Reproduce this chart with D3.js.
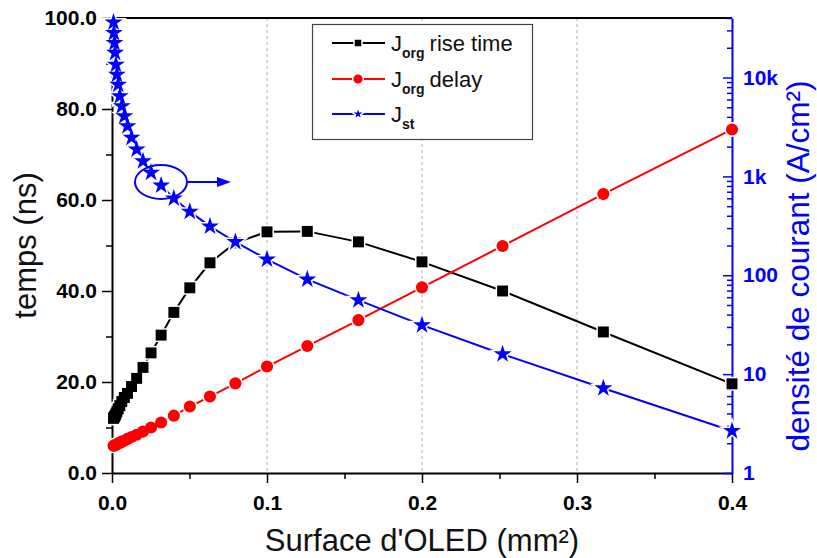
<!DOCTYPE html>
<html>
<head>
<meta charset="utf-8">
<script src="https://cdn.jsdelivr.net/npm/d3@7"></script>
<style>
  html, body { margin: 0; padding: 0; background: #fff; }
  svg { display: block; font-family: "Liberation Sans", Arial, sans-serif; }
</style>
</head>
<body>
<svg id="chart" width="817" height="558"></svg>
<script>
// OLED surface (mm²)
const surface = [0.001, 0.00126, 0.00159, 0.002, 0.00252, 0.00317, 0.00399, 0.00502, 0.00632, 0.00796,
                 0.01, 0.0126, 0.0159, 0.02, 0.0252, 0.0317, 0.0399, 0.0502, 0.0632, 0.0796,
                 0.1, 0.126, 0.159, 0.2, 0.252, 0.317, 0.4];
// J_org rise time (ns)
const riseTime = [12.0, 12.2, 12.4, 12.6, 13.0, 13.5, 14.1, 14.8, 15.7, 16.6,
                  17.5, 19.0, 20.8, 23.2, 26.4, 30.3, 35.3, 40.7, 46.2, 50.6,
                  53.0, 53.1, 50.8, 46.4, 40.0, 31.0, 19.6];
// J_org delay (ns)
const delay = [6.0, 6.0, 6.1, 6.1, 6.2, 6.3, 6.5, 6.6, 6.9, 7.1,
               7.5, 7.9, 8.4, 9.1, 10.0, 11.1, 12.6, 14.6, 16.8, 19.7,
               23.4, 27.9, 33.6, 40.8, 49.9, 61.3, 75.5];
// J_st current density (A/cm²)
const currentDensity = [36100, 28300, 22400, 17800, 13500, 10700, 8490, 6470, 5130, 4065,
                        3220, 2460, 1875, 1428, 1090, 811, 600, 440, 312, 217,
                        145, 91, 56, 31.3, 15.9, 7.2, 2.66];

const xTicks = [0, 0.1, 0.2, 0.3, 0.4];
const xMinorTicks = [0.05, 0.15, 0.25, 0.35];
const yLeftTicks = [0, 20, 40, 60, 80, 100];
const yLeftMinorTicks = [10, 30, 50, 70, 90];
const yRightTicks = [1, 10, 100, 1000, 10000];
const yRightTickLabels = ["1", "10", "100", "1k", "10k"];
const yRightMinorTicks = [2,3,4,5,6,7,8,9, 20,30,40,50,60,70,80,90,
                          200,300,400,500,600,700,800,900,
                          2000,3000,4000,5000,6000,7000,8000,9000, 20000,30000,40000];

const seriesNames = ["rise time", "delay", ""];
const seriesSubs = ["org", "org", "st"];

const m = { left: 112, right: 732, top: 18, bottom: 473 };
const blue = "#0000ff", red = "#ff0000", black = "#000000";

const svg = d3.select("#chart");

const x = d3.scaleLinear().domain([0, 0.4]).range([m.left, m.right]);
const yL = d3.scaleLinear().domain([0, 100]).range([m.bottom, m.top]);
const yR = d3.scaleLog().domain([1, 40000]).range([m.bottom, m.top]);

// vertical dashed grid
svg.append("g").selectAll("line").data(xTicks.slice(1, -1)).join("line")
  .attr("x1", d => x(d)).attr("x2", d => x(d))
  .attr("y1", m.top).attr("y2", m.bottom)
  .attr("stroke", "#b0b0b0").attr("stroke-width", 1).attr("stroke-dasharray", "3,3");

// top frame line
svg.append("line").attr("x1", m.left).attr("x2", m.right).attr("y1", m.top).attr("y2", m.top)
  .attr("stroke", black).attr("stroke-width", 2);

function styleAxis(g, color) {
  g.select(".domain").attr("stroke", color).attr("stroke-width", 2);
  g.selectAll(".tick line").attr("stroke", color).attr("stroke-width", 1.5);
  g.selectAll(".tick text").attr("fill", color).attr("font-size", 21).attr("font-weight", "bold")
    .attr("font-family", "Liberation Sans, Arial, sans-serif");
}

// bottom axis
const gx = svg.append("g").attr("transform", `translate(0,${m.bottom})`)
  .call(d3.axisBottom(x).tickValues(xTicks).tickFormat(d3.format(".1f")).tickSizeInner(10).tickSizeOuter(0).tickPadding(12));
styleAxis(gx, black);
svg.append("g").attr("transform", `translate(0,${m.bottom})`)
  .call(d3.axisBottom(x).tickValues(xMinorTicks).tickFormat("").tickSizeInner(6).tickSizeOuter(0))
  .call(g => { g.select(".domain").remove(); g.selectAll("line").attr("stroke", black).attr("stroke-width", 1.5); });

// left axis
const gyl = svg.append("g").attr("transform", `translate(${m.left},0)`)
  .call(d3.axisLeft(yL).tickValues(yLeftTicks).tickFormat(d3.format(".1f")).tickSizeInner(10).tickSizeOuter(0).tickPadding(5));
styleAxis(gyl, black);
svg.append("g").attr("transform", `translate(${m.left},0)`)
  .call(d3.axisLeft(yL).tickValues(yLeftMinorTicks).tickFormat("").tickSizeInner(6).tickSizeOuter(0))
  .call(g => { g.select(".domain").remove(); g.selectAll("line").attr("stroke", black).attr("stroke-width", 1.5); });

// right log axis, ticks pointing inward
const gyr = svg.append("g").attr("transform", `translate(${m.right},0)`)
  .call(d3.axisRight(yR).tickValues(yRightTicks).tickFormat((d, i) => yRightTickLabels[i]).tickSizeInner(-9).tickSizeOuter(0).tickPadding(11));
styleAxis(gyr, blue);
svg.append("g").attr("transform", `translate(${m.right},0)`)
  .call(d3.axisRight(yR).tickValues(yRightMinorTicks).tickFormat("").tickSizeInner(-5).tickSizeOuter(0))
  .call(g => { g.select(".domain").remove(); g.selectAll("line").attr("stroke", blue).attr("stroke-width", 1.5); });

// axis titles
svg.append("text").attr("x", (m.left + m.right) / 2).attr("y", 551)
  .attr("text-anchor", "middle").attr("font-size", 31).attr("fill", "#111")
  .text("Surface d'OLED (mm²)");
svg.append("text").attr("transform", `translate(36,${(m.top + m.bottom) / 2}) rotate(-90)`)
  .attr("text-anchor", "middle").attr("font-size", 31).attr("fill", "#111")
  .text("temps (ns)");
svg.append("text").attr("transform", `translate(809,266) rotate(-90)`)
  .attr("text-anchor", "middle").attr("font-size", 31.5).attr("fill", blue)
  .text("densité de courant (A/cm²)");

// series: black squares, red circles, blue stars on top
const series = [
  { vals: riseTime, y: yL, color: black, symbol: d3.symbolSquare, size: 120, lsize: 64 },
  { vals: delay, y: yL, color: red, symbol: d3.symbolCircle, size: 115, lsize: 90 },
  { vals: currentDensity, y: yR, color: blue, symbol: d3.symbolStar, size: 100, lsize: 55 }
];

const plot = svg.append("g");
series.forEach(s => {
  const pts = surface.map((sx, i) => [x(sx), s.y(s.vals[i])]);
  plot.append("path").attr("d", d3.line()(pts))
    .attr("fill", "none").attr("stroke", s.color).attr("stroke-width", 2);
  // white halo leaves a small gap where the line meets each symbol
  plot.append("g").selectAll("path").data(pts).join("path")
    .attr("transform", d => `translate(${d[0]},${d[1]})`)
    .attr("d", d3.symbol(s.symbol, s.size)())
    .attr("fill", "#fff").attr("stroke", "#fff").attr("stroke-width", 3);
  plot.append("g").selectAll("path").data(pts).join("path")
    .attr("transform", d => `translate(${d[0]},${d[1]})`)
    .attr("d", d3.symbol(s.symbol, s.size)())
    .attr("fill", s.color);
});

// ellipse + arrow pointing to the right axis
svg.append("ellipse").attr("cx", 161).attr("cy", 182).attr("rx", 26).attr("ry", 17)
  .attr("fill", "none").attr("stroke", blue).attr("stroke-width", 2);
svg.append("line").attr("x1", 187).attr("x2", 220).attr("y1", 182).attr("y2", 182)
  .attr("stroke", blue).attr("stroke-width", 2);
svg.append("path").attr("d", "M231,182 L217,177 L217,187 Z").attr("fill", blue);

// legend
const lg = svg.append("g");
lg.append("rect").attr("x", 312.5).attr("y", 24.5).attr("width", 220).attr("height", 115)
  .attr("fill", "#fff").attr("stroke", "#444").attr("stroke-width", 1.2);
const rowY = [43, 79, 114];
series.forEach((s, i) => {
  const cy = rowY[i];
  lg.append("line").attr("x1", 332).attr("x2", 385).attr("y1", cy).attr("y2", cy)
    .attr("stroke", s.color).attr("stroke-width", 2);
  lg.append("path").attr("transform", `translate(358,${cy})`)
    .attr("d", d3.symbol(s.symbol, s.lsize)())
    .attr("fill", s.color).attr("stroke", "#fff").attr("stroke-width", 1.5);
  const t = lg.append("text").attr("x", 391).attr("y", cy + 8).attr("font-size", 22).attr("fill", "#111");
  t.append("tspan").text("J");
  t.append("tspan").attr("font-size", 14).attr("font-weight", "bold").attr("dy", 7).text(seriesSubs[i]);
  if (seriesNames[i]) t.append("tspan").attr("dy", -7).attr("dx", 5).text(seriesNames[i]);
});
</script>
</body>
</html>
